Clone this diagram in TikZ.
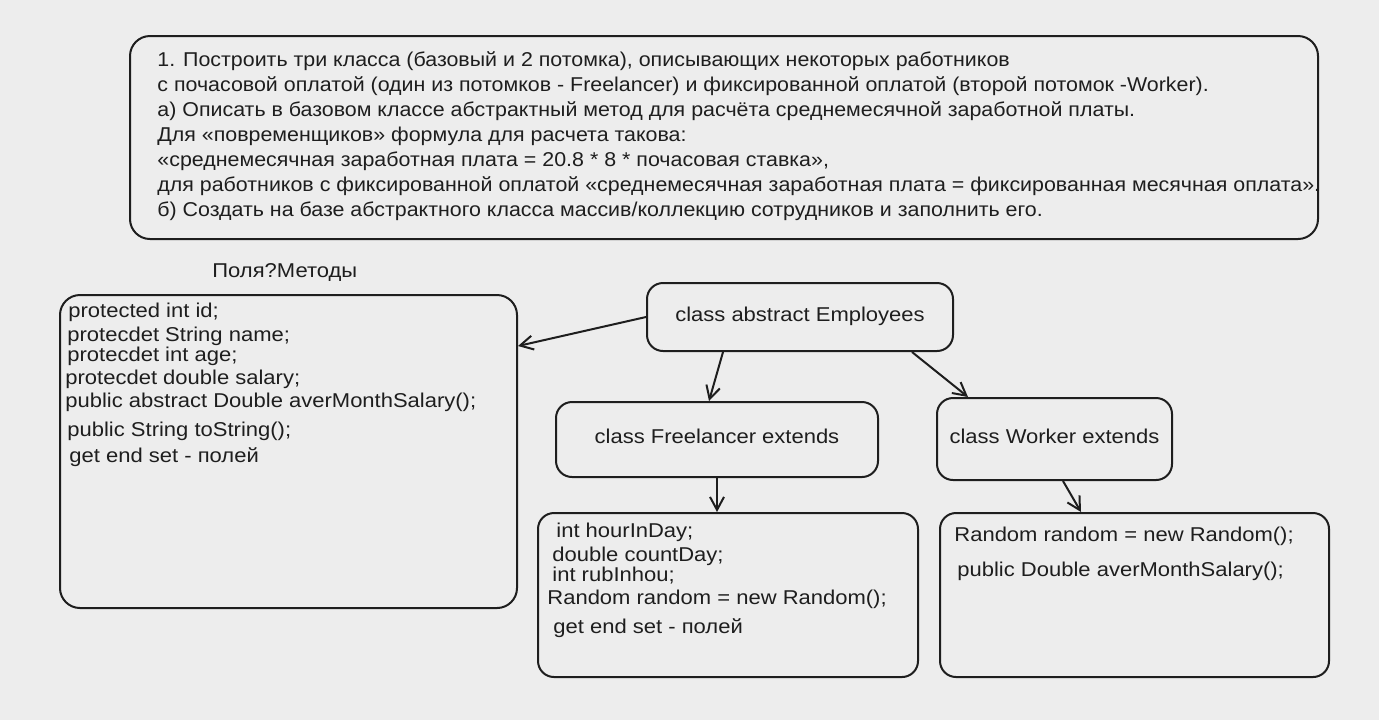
\documentclass[tikz,border=0pt]{standalone}
\usepackage{fontspec}
\newfontfamily\handfont[FakeStretch=1.1]{Liberation Sans}
\newfontfamily\taskfont[FakeStretch=1.07]{Liberation Sans}
\usetikzlibrary{arrows.meta}
\definecolor{paper}{RGB}{237,237,237}
\definecolor{ink}{RGB}{30,30,30}

\begin{document}
\begin{tikzpicture}[x=0.5pt,y=-0.5pt,
  font=\handfont\fontsize{10}{12.5}\selectfont,
  box/.style={draw=ink,line width=1pt,rounded corners=8pt,inner sep=0pt,text=ink,
    text height=1.4ex,text depth=0.4ex},
  txt/.style={anchor=west,inner sep=0pt,text=ink,text height=1.4ex,text depth=0.4ex},
  arr/.style={draw=ink,line width=1pt,-{Straight Barb[length=6.5pt,width=7pt]}}]
  \fill[paper] (0,0) rectangle (1379,720);
  \useasboundingbox (0,0) rectangle (1379,720);

  \node[box,rounded corners=10pt,minimum width=594pt,minimum height=101.5pt] (task) at (724,137.5) {};
  \foreach \t [count=\i] in {
      {1. Построить три класса (базовый и 2 потомка), описывающих некоторых работников},
      {с почасовой оплатой (один из потомков - Freelancer) и фиксированной оплатой (второй потомок -Worker).},
      {а) Описать в базовом классе абстрактный метод для расчёта среднемесячной заработной платы.},
      {Для «повременщиков» формула для расчета такова:},
      {«среднемесячная заработная плата = 20.8 * 8 * почасовая ставка»,},
      {для работников с фиксированной оплатой «среднемесячная заработная плата = фиксированная месячная оплата».},
      {б) Создать на базе абстрактного класса массив/коллекцию сотрудников и заполнить его.}} {
    \node[txt,font=\taskfont\fontsize{10}{12.5}\selectfont] (task\i) at (157,{37+25*\i}) {\t};
  }

  \node[txt] (title) at (212,273) {Поля?Методы};
  \node[box,rounded corners=10pt,minimum width=228.5pt,minimum height=156.5pt] (base) at (288.5,451.5) {};
  \foreach \x/\y/\t [count=\i] in {
      68/313/{protected int id;},
      67/337/{protecdet String name;},
      67/357/{protecdet int age;},
      65/380/{protecdet double salary;},
      65/403/{public abstract Double averMonthSalary();},
      67/432/{public String toString();},
      69/458/{get end set - полей}} {
    \node[txt] (base\i) at (\x,\y) {\t};
  }

  \node[box,minimum width=153pt,minimum height=34pt] (emp) at (800,317) {class abstract Employees};
  \node[box,minimum width=161pt,minimum height=37.5pt] (free) at (717,439.5) {class Freelancer extends};
  \node[box,minimum width=117.5pt,minimum height=41pt] (work) at (1054.5,439) {class Worker extends};

  \node[box,minimum width=190pt,minimum height=82pt] (ffld) at (728,595) {};
  \foreach \x/\y/\t [count=\i] in {
      556/533/{int hourInDay;},
      552/557/{double countDay;},
      552/577/{int rubInhou;},
      547/600/{Random random = new Random();},
      553/629/{get end set - полей}} {
    \node[txt] (ffld\i) at (\x,\y) {\t};
  }

  \node[box,minimum width=194.5pt,minimum height=82pt] (wfld) at (1134.5,595) {};
  \foreach \x/\y/\t [count=\i] in {
      954/537/{Random random = new Random();},
      957/572/{public Double averMonthSalary();}} {
    \node[txt] (wfld\i) at (\x,\y) {\t};
  }

  \draw[arr] (emp.west) -- ([yshift=-26pt]base.north east);
  \draw[arr] ([xshift=38.5pt]emp.south west) -- ([xshift=77pt]free.north west);
  \draw[arr] ([xshift=-21pt]emp.south east) -- ([xshift=16pt]work.north west);
  \draw[arr] (free.south) -- (free.south |- ffld.north);
  \draw[arr] ([xshift=4.25pt]work.south) -- ([xshift=71pt]wfld.north west);
\end{tikzpicture}
\end{document}
